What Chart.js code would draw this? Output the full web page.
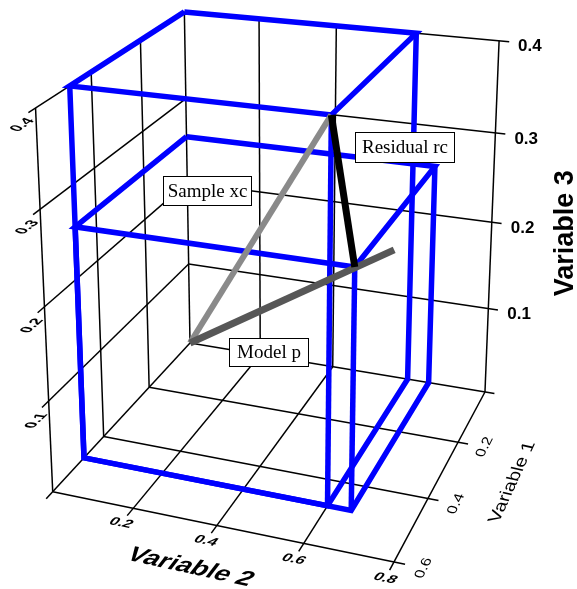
<!DOCTYPE html>
<html>
<head>
<meta charset="utf-8">
<script src="https://cdn.jsdelivr.net/npm/chart.js@4.4.1/dist/chart.umd.min.js"></script>
<style>
  html, body { margin: 0; padding: 0; background: #fff; }
  #wrap { width: 577px; height: 589px; }
</style>
</head>
<body>
<div id="wrap"><canvas id="myChart" width="577" height="589"></canvas></div>
<script>
// axis ticks and ranges
const var1Ticks = [0.2, 0.4, 0.6];
const var2Ticks = [0.2, 0.4, 0.6, 0.8];
const var3Ticks = [0.1, 0.2, 0.3, 0.4];
const var1Max = 0.6;
const var2Max = 0.8;
const var3Max = 0.4;

// points as [variable 1, variable 2, variable 3]
const origin = [0, 0, 0];
const sampleXc = [0.48, 0.6, 0.4];
const modelP = [0.48, 0.655, 0.255];
const modelEnd = [0.567, 0.773, 0.3];

// camera: perspective projection of the unit cube (var2, var1, var3 scaled 0..1)
const VIEW = [
  [264.7, -145.3, -16.7, 190],
  [24.54, 73.81, -331.8, 343],
  [-0.0624, -0.1523, -0.06, 1],
];

function projN(x, y, z) {
  const w = VIEW[2][0] * x + VIEW[2][1] * y + VIEW[2][2] * z + VIEW[2][3];
  return {
    x: (VIEW[0][0] * x + VIEW[0][1] * y + VIEW[0][2] * z + VIEW[0][3]) / w,
    y: (VIEW[1][0] * x + VIEW[1][1] * y + VIEW[1][2] * z + VIEW[1][3]) / w,
  };
}
function proj(p) {
  return projN(p[1] / var2Max, p[0] / var1Max, p[2] / var3Max);
}

const datasets = [];
function addLine(pts, color, width, order) {
  datasets.push({
    data: pts.map(proj),
    showLine: true,
    borderColor: color,
    borderWidth: width,
    pointRadius: 0,
    pointHoverRadius: 0,
    order: order,
    borderCapStyle: "butt",
    borderJoinStyle: "miter",
  });
}

// walls and floor grid, with little tick stubs beyond the axes
const ext1 = var1Max * 1.04;
const ext2 = var2Max * 1.03;
const grid = "#000";
[0, ...var2Ticks].forEach(t => addLine([[0, t, 0], [0, t, var3Max]], grid, 1.5, 4));
[0, ...var3Ticks].forEach(z => addLine([[0, 0, z], [0, ext2, z]], grid, 1.5, 4));
var1Ticks.forEach(t => addLine([[t, 0, 0], [t, 0, var3Max]], grid, 1.5, 4));
[0, ...var3Ticks].forEach(z => addLine([[0, 0, z], [ext1, 0, z]], grid, 1.5, 4));
var2Ticks.forEach(t => addLine([[0, t, 0], [ext1, t, 0]], grid, 1.5, 4));
var1Ticks.forEach(t => addLine([[t, 0, 0], [t, ext2, 0]], grid, 1.5, 4));

// coordinate boxes of the sample and the model point
function addBox(p) {
  const [a, b, c] = p;
  addLine([[0, 0, c], [0, b, c], [a, b, c], [a, 0, c], [0, 0, c]], "#0000ff", 5.5, 3);
  addLine([[a, 0, c], [a, 0, 0], [a, b, 0], [0, b, 0], [0, b, c]], "#0000ff", 5.5, 3);
  addLine([[a, b, c], [a, b, 0]], "#0000ff", 5.5, 3);
}
addBox(sampleXc);
addBox(modelP);

// vectors
addLine([origin, sampleXc], "#8a8a8a", 6, 2);
addLine([origin, modelEnd], "#575757", 7, 1);
addLine([sampleXc, modelP], "#000000", 7, 0);

const sans = '"Liberation Sans", Arial, sans-serif';
const serif = '"Liberation Serif", "Times New Roman", serif';

// text along a projected axis direction, letters leaning by upTilt (radians from the baseline normal)
function skewText(ctx, text, a, dir, upTilt, font, squash) {
  const p0 = projN(a[0], a[1], a[2]);
  const p1 = projN(a[0] + dir[0] * 0.01, a[1] + dir[1] * 0.01, a[2] + dir[2] * 0.01);
  const base = Math.atan2(p1.y - p0.y, p1.x - p0.x);
  const up = base - Math.PI / 2 + upTilt;
  ctx.save();
  ctx.setTransform(Math.cos(base), Math.sin(base), -Math.cos(up) * squash, -Math.sin(up) * squash, p0.x, p0.y);
  ctx.font = font;
  ctx.textAlign = "center";
  ctx.textBaseline = "middle";
  ctx.fillStyle = "#000";
  ctx.fillText(text, 0, 0);
  ctx.restore();
}

function labelBox(ctx, text, x, y, w, h) {
  ctx.save();
  ctx.fillStyle = "#fff";
  ctx.fillRect(x, y, w, h);
  ctx.strokeStyle = "#000";
  ctx.lineWidth = 1;
  ctx.strokeRect(x + 0.5, y + 0.5, w - 1, h - 1);
  ctx.font = "19px " + serif;
  ctx.fillStyle = "#000";
  ctx.textAlign = "center";
  ctx.textBaseline = "middle";
  ctx.fillText(text, x + w / 2, y + h / 2 + 1);
  ctx.restore();
}

const deg = Math.PI / 180;

const textPlugin = {
  id: "text3d",
  afterDatasetsDraw(chart) {
    const ctx = chart.ctx;

    // variable 3, right axis (bold, upright)
    ctx.save();
    ctx.font = "bold 17px " + sans;
    ctx.textAlign = "left";
    ctx.textBaseline = "middle";
    ctx.fillStyle = "#000";
    var3Ticks.forEach(t => {
      const p = projN(1, 0, t / var3Max);
      ctx.fillText(t.toFixed(1), p.x + 19, p.y + 6);
    });
    const mid3 = projN(1, 0, 0.5);
    ctx.translate(mid3.x + 74, mid3.y + 11);
    ctx.rotate(-Math.PI / 2);
    ctx.font = "bold 27px " + sans;
    ctx.textAlign = "center";
    ctx.fillText("Variable 3", 0, 0);
    ctx.restore();

    // variable 3, left wall ticks: baseline runs back along variable 1, letters stay upright
    var3Ticks.forEach(t => {
      skewText(ctx, t.toFixed(1), [0, 1.075, t / var3Max - 0.02], [0, -1, 0], -36 * deg, "bold 15px " + sans, 1);
    });

    // variable 2 on the floor
    var2Ticks.forEach(t => {
      skewText(ctx, t.toFixed(1), [t / var2Max, 1.08, 0], [1, 0, 0], 28 * deg, "bold 16px " + sans, 0.85);
    });
    skewText(ctx, "Variable 2", [0.51, 1.21, 0], [1, 0, 0], 26 * deg, "bold 27px " + sans, 0.9);

    // variable 1 on the floor
    var1Ticks.forEach(t => {
      skewText(ctx, t.toFixed(1), [1.08, t / var1Max, 0], [0, -1, 0], -12 * deg, "16px " + sans, 0.85);
    });
    skewText(ctx, "Variable 1", [1.2, 0.5, 0], [0, -1, 0], -12 * deg, "20px " + sans, 0.85);

    labelBox(ctx, "Sample xc", 163, 176, 89, 30);
    labelBox(ctx, "Residual rc", 355, 132, 100, 31);
    labelBox(ctx, "Model p", 229, 338, 80, 29);
  },
};

const ctx = document.getElementById("myChart");
const myChart = new Chart(ctx, {
  type: "scatter",
  data: { datasets: datasets },
  options: {
    responsive: false,
    animation: false,
    events: [],
    layout: { padding: 0, autoPadding: false },
    plugins: { legend: { display: false }, tooltip: { enabled: false } },
    scales: {
      x: { type: "linear", min: 0, max: 577, display: false },
      y: { type: "linear", min: 0, max: 589, reverse: true, display: false },
    },
  },
  plugins: [textPlugin],
});
</script>
</body>
</html>
